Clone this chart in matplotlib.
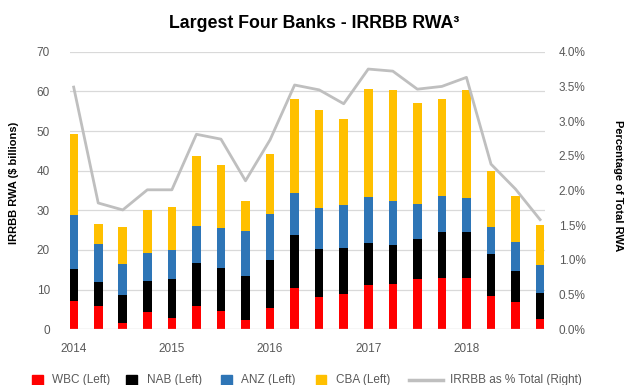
import matplotlib
matplotlib.use("Agg")
import matplotlib.pyplot as plt
from matplotlib.patches import Rectangle
from matplotlib.lines import Line2D
from matplotlib.ticker import FuncFormatter
import numpy as np

plt.rcParams['font.family'] = ['Liberation Sans', 'DejaVu Sans']

# ---- data ----
years = ["2014", "2015", "2016", "2017", "2018"]
wbc = [7.1, 5.9, 1.6, 4.4, 2.9, 5.9, 4.6, 2.4, 5.4, 10.4, 8.2, 8.9, 11.2, 11.4, 12.7, 12.9, 12.9, 8.4, 6.9, 2.6]
nab = [8.1, 6.0, 7.1, 7.8, 9.8, 10.8, 10.9, 11.0, 12.1, 13.4, 12.1, 11.6, 10.6, 9.9, 10.1, 11.6, 11.6, 10.6, 7.8, 6.6]
anz = [13.6, 9.6, 7.8, 7.0, 7.3, 9.4, 10.0, 11.4, 11.6, 10.6, 10.3, 10.8, 11.6, 11.1, 8.8, 9.2, 8.6, 6.8, 7.3, 7.0]
cba = [20.4, 5.1, 9.3, 10.9, 10.8, 17.6, 15.9, 7.6, 15.1, 23.7, 24.7, 21.7, 27.2, 27.9, 25.5, 24.4, 27.2, 14.1, 11.6, 10.1]
irrbb_pct = [3.49, 1.82, 1.72, 2.01, 2.01, 2.81, 2.74, 2.14, 2.73, 3.52, 3.45, 3.25, 3.75, 3.72, 3.46, 3.50, 3.63, 2.38, 2.02, 1.58]
series_names = ["WBC (Left)", "NAB (Left)", "ANZ (Left)", "CBA (Left)"]
line_name = "IRRBB as % Total (Right)"

colors = ["#FF0000", "#000000", "#2E75B6", "#FFC000"]
line_color = "#BFBFBF"
tick_color = "#595959"

W, H = 627, 385
fig = plt.figure(figsize=(W / 100, H / 100), dpi=100)

def fx(px):
    return px / W

def fy(py):
    return 1 - py / H

left, right, top, bottom = 69.5, 545, 51.7, 329.3
ax = fig.add_axes([fx(left), fy(bottom), fx(right) - fx(left), fy(top) - fy(bottom)])

x = np.arange(len(wbc))
bw = 0.35
base = np.zeros(len(wbc))
for vals, c in zip([wbc, nab, anz, cba], colors):
    ax.bar(x, vals, bw, bottom=base, color=c, zorder=2, linewidth=0)
    base = base + np.array(vals)

ax.set_ylim(0, 70)
ax.set_yticks(range(0, 71, 10))
ax.set_xlim(-0.17, 19.2)
ax.set_xticks(x[::4])
ax.set_xticklabels(years)
ax.grid(axis='y', color='#D9D9D9', linewidth=0.9, zorder=0)
ax.set_axisbelow(True)
for s in ax.spines.values():
    s.set_visible(False)
ax.axhline(0, color='#D9D9D9', linewidth=1.0, alpha=0.6, zorder=3)
ax.tick_params(axis='both', length=0, labelsize=8.5, labelcolor=tick_color)
ax.tick_params(axis='y', pad=14)
ax.tick_params(axis='x', pad=10)

ax2 = ax.twinx()
ax2.plot(x, np.array(irrbb_pct) / 100, color=line_color, linewidth=2.0, zorder=4)
ax2.set_ylim(0, 0.04)
ax2.set_yticks(np.arange(0, 0.0401, 0.005))
ax2.yaxis.set_major_formatter(FuncFormatter(lambda v, p: f"{v*100:.1f}%"))
for s in ax2.spines.values():
    s.set_visible(False)
ax2.tick_params(axis='y', length=0, labelsize=8.5, labelcolor=tick_color, pad=10)

# titles / labels
fig.text(fx(314), fy(23.5), "Largest Four Banks - IRRBB RWA\u00b3", ha='center', va='center',
         fontsize=12.8, fontweight='bold', color='black')
fig.text(fx(14), fy(183), "IRRBB RWA ($ billions)", rotation=90, ha='center', va='center',
         fontsize=8, fontweight='bold')
fig.text(fx(618), fy(186), "Percentage of Total RWA", rotation=270, ha='center', va='center',
         fontsize=8, fontweight='bold')

# legend (manual)
ly = 380
sq = 11
sq_x = [31.7, 126, 220.5, 315.5]
txt_x = [51.7, 146.7, 241, 336]
for c, sx, tx, name in zip(colors, sq_x, txt_x, series_names):
    fig.add_artist(Rectangle((fx(sx), fy(ly + sq / 2)), sq / W, sq / H, color=c,
                             transform=fig.transFigure))
    fig.text(fx(tx), fy(ly), name, ha='left', va='center', fontsize=8.5, color=tick_color)
fig.add_artist(Line2D([fx(409), fx(443)], [fy(ly), fy(ly)], color=line_color, linewidth=2.5,
                      transform=fig.transFigure))
fig.text(fx(450), fy(ly), line_name, ha='left', va='center', fontsize=8.5, color=tick_color)

fig.savefig("out.png", dpi=100)
